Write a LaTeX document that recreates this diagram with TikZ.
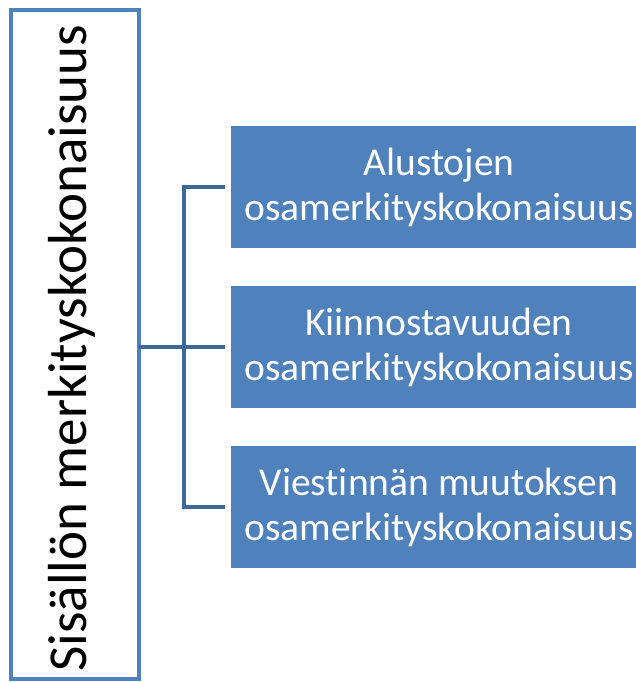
\documentclass[tikz,border=0pt]{standalone}
\usepackage{fontspec}
\setmainfont{Carlito}[Ligatures={NoCommon}]
\definecolor{accent}{HTML}{4F81BD}
\definecolor{linec}{HTML}{3D6899}
\begin{document}
\begin{tikzpicture}[x=1pt,y=-1pt,
  rootbox/.style={draw=accent,line width=4pt,fill=white,minimum width=128pt,minimum height=669pt,inner sep=0pt},
  childbox/.style={fill=accent,minimum width=416pt,minimum height=122pt,inner sep=0pt,text=white,font=\fontsize{39.5pt}{45pt}\selectfont,align=center},
  conn/.style={draw=linec,line width=4.5pt}]
\useasboundingbox (0,0) rectangle (636,682);
\clip (0,0) rectangle (636,682);
\node[rootbox] (root) at (75,344.5) {};
\node[rotate=90,font=\fontsize{55pt}{60pt}\selectfont] (roottxt) at (72,348) {Sisällön merkityskokonaisuus};
\node[childbox] (c1) at (439,187) {Alustojen\\osamerkityskokonaisuus};
\node[childbox] (c2) at (439,347) {Kiinnostavuuden\\osamerkityskokonaisuus};
\node[childbox] (c3) at (439,507) {Viestinnän muutoksen\\osamerkityskokonaisuus};
\coordinate (j1) at (184,187);
\coordinate (j3) at (184,507);
\draw[conn] ([xshift=-2pt]root.east |- c2.west) -- ([xshift=-6pt]c2.west);
\draw[conn] ([xshift=-6pt]c1.west) -- (j1) -- (j3) -- ([xshift=-6pt]c3.west);
\end{tikzpicture}
\end{document}
